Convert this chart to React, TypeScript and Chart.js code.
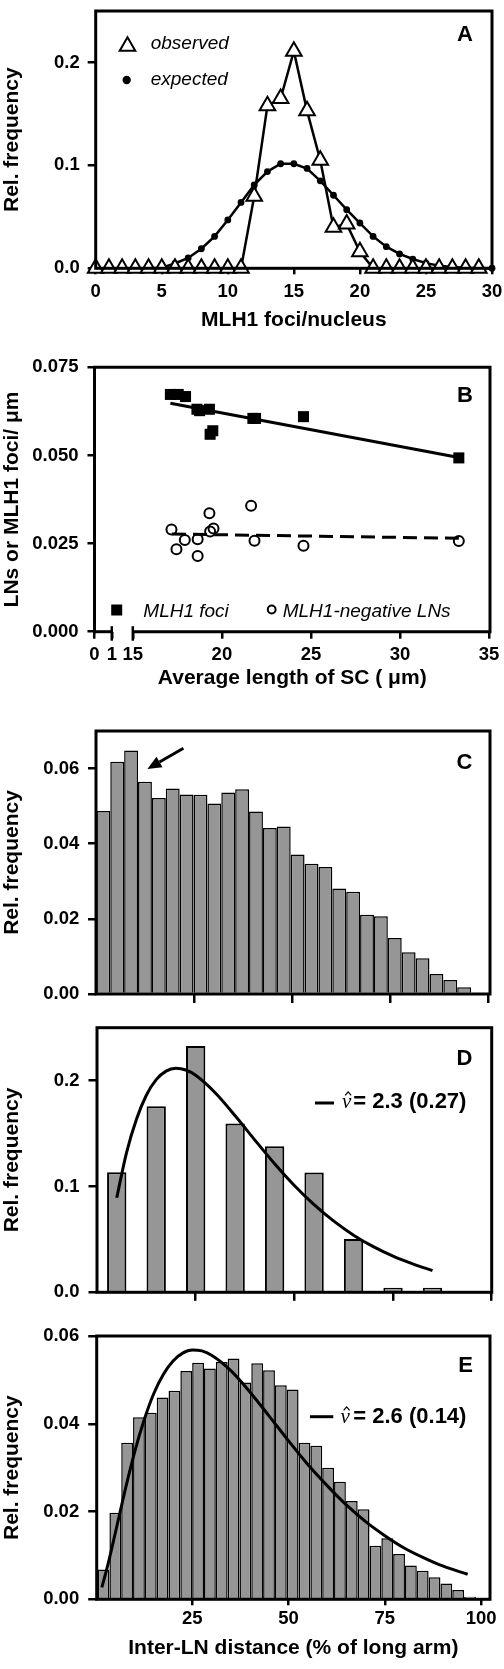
import React, { useEffect, useRef } from 'react';
import { Chart, registerables } from 'chart.js';

Chart.register(...registerables);

const SANS = "'Liberation Sans', Arial, Helvetica, sans-serif";
const SERIF = "'Liberation Serif', 'DejaVu Serif', serif";
Chart.defaults.font.family = SANS;
Chart.defaults.color = '#000';

const BAR_GREY = '#969696';

// ---------------- Panel A: MLH1 foci per nucleus ----------------
const fociCounts = [0, 1, 2, 3, 4, 5, 6, 7, 8, 9, 10, 11, 12, 13, 14, 15, 16, 17, 18, 19, 20, 21, 22, 23, 24, 25, 26, 27, 28, 29, 30];
const observedFreqA = [0, 0, 0, 0, 0, 0, 0, 0, 0, 0, 0, 0, 0.070, 0.158, 0.165, 0.211, 0.153, 0.105, 0.040, 0.043, 0.016, 0, 0, 0, 0, 0, 0, 0, 0, 0];
const expectedFreqA = [0, 0, 0, 0, 0, 0.0006, 0.0047, 0.010, 0.019, 0.031, 0.047, 0.064, 0.081, 0.094, 0.1016, 0.1016, 0.097, 0.085, 0.071, 0.057, 0.044, 0.031, 0.021, 0.014, 0.009, 0.005, 0.0025, 0.0012, 0.0005, 0.0002, 0.0001];
const xTicksA = [0, 5, 10, 15, 20, 25, 30];
const yTicksA = [0, 0.1, 0.2];

// ---------------- Panel B: foci / LNs per micron vs SC length ----------------
const scLengthFoci = [17.11, 17.55, 17.96, 18.60, 18.75, 19.30, 19.34, 19.49, 21.74, 21.89, 24.58, 33.30];
const fociPerUm = [0.0673, 0.0673, 0.0667, 0.0631, 0.0627, 0.0631, 0.0560, 0.0570, 0.0605, 0.0605, 0.0610, 0.0493];
const scLengthLN = [17.17, 17.45, 17.92, 18.64, 18.64, 19.30, 19.34, 19.53, 21.64, 21.83, 24.58, 33.30];
const lnPerUm = [0.0290, 0.0234, 0.0260, 0.0262, 0.0215, 0.0336, 0.0284, 0.0293, 0.0357, 0.0258, 0.0244, 0.0257];
const fitFociX = [17.11, 33.30];
const fitFociY = [0.0648, 0.0494];
const fitLnX = [17.2, 33.3];
const fitLnY = [0.0277, 0.0265];
const xTickValuesB = [0, 1, 15, 20, 25, 30, 35];
const xTickLabelsB = ['0', '1', '15', '20', '25', '30', '35'];
const yTicksB = [0, 0.025, 0.05, 0.075];
// broken axis: values below 15 are drawn on a compressed stub
const breakOriginB = 12.85;
const breakUnitB = 0.97;
const axisValueB = (v: number) => (v < 15 ? breakOriginB + v * breakUnitB : v);

// ---------------- Panel C: inter-LN distance histogram ----------------
const freqC = [0.0487, 0.0618, 0.0648, 0.0565, 0.0522, 0.0547, 0.0531, 0.0530, 0.0507, 0.0536, 0.0545, 0.0486, 0.0442, 0.0446, 0.0371, 0.0347, 0.0338, 0.0281, 0.0272, 0.0211, 0.0207, 0.0149, 0.0111, 0.0095, 0.0053, 0.0037, 0.0018];
const binStartC = 0;
const binWidthC = 3.54;
const arrowC = { fromX: 22.2, fromY: 0.0654, toX: 13.0, toY: 0.0599 };

// ---------------- Panel D ----------------
const binCentersD = [5, 15, 25, 35, 45, 55, 65, 75, 85];
const freqD = [0.1135, 0.1758, 0.2327, 0.1594, 0.1380, 0.1132, 0.0503, 0.0044, 0.0044];
const fitXD = [5, 7.5, 10, 12.5, 15, 17.5, 20, 22.5, 25, 30, 35, 40, 45, 50, 55, 60, 65, 70, 75, 80, 85];
const fitYD = [0.0893, 0.1323, 0.1636, 0.1862, 0.2009, 0.2090, 0.2116, 0.2100, 0.2050, 0.1883, 0.1668, 0.1438, 0.1214, 0.1009, 0.0828, 0.0672, 0.0540, 0.0431, 0.0342, 0.0269, 0.0205];
const nuLabelD = '= 2.3 (0.27)';

// ---------------- Panel E ----------------
const freqE = [0.0068, 0.0197, 0.0357, 0.0415, 0.0425, 0.0460, 0.0475, 0.0520, 0.0539, 0.0526, 0.0541, 0.0549, 0.0494, 0.0538, 0.0522, 0.0488, 0.0478, 0.0357, 0.0350, 0.0300, 0.0268, 0.0224, 0.0205, 0.0122, 0.0139, 0.0103, 0.0077, 0.0065, 0.0050, 0.0036, 0.0021, 0.0006];
const binStartE = 0.4;
const binWidthE = 3.07;
const fitXE = [1.5, 3, 5, 7.5, 10, 12.5, 15, 17.5, 20, 22.5, 25, 27.5, 30, 35, 40, 45, 50, 55, 60, 65, 70, 75, 80, 85, 90, 96.5];
const fitYE = [0.0027, 0.0076, 0.0151, 0.0247, 0.0335, 0.0409, 0.0469, 0.0513, 0.0543, 0.0561, 0.0568, 0.0566, 0.0556, 0.0521, 0.0472, 0.0417, 0.0361, 0.0307, 0.0259, 0.0215, 0.0177, 0.0145, 0.0117, 0.0095, 0.0076, 0.0057];
const nuLabelE = '= 2.6 (0.14)';

const xTicksPct = [25, 50, 75, 100];
const yTicksCE = [0, 0.02, 0.04, 0.06];
const yTicksD = [0, 0.1, 0.2];

// ---------------- layout helpers ----------------
interface Geo { top: number; height: number; left: number; right: number; plotTop: number; plotBottom: number; }
const GEO_A: Geo = { top: 0, height: 335, left: 95.7, right: 492, plotTop: 4, plotBottom: 268.3 };
const GEO_B: Geo = { top: 335, height: 365, left: 94.5, right: 490, plotTop: 367.3, plotBottom: 631.7 };
const GEO_C: Geo = { top: 700, height: 305, left: 96, right: 490, plotTop: 731, plotBottom: 994 };
const GEO_D: Geo = { top: 1005, height: 300, left: 97, right: 491.7, plotTop: 1027.7, plotBottom: 1292.3 };
const GEO_E: Geo = { top: 1305, height: 364, left: 96.7, right: 490, plotTop: 1336, plotBottom: 1599.3 };

const TICK_FONT = { size: 18.5, weight: 'bold' as const };
const TITLE_FONT = { size: 21, weight: 'bold' as const };

function yAxis(g: Geo, o: { max: number; ticks: number[]; decimals: number; title: string; tickLen: number; pad: number }) {
  return {
    type: 'linear', min: 0, max: o.max, bounds: 'data',
    afterBuildTicks: (s: any) => { s.ticks = o.ticks.map((v) => ({ value: v })); },
    afterFit: (s: any) => { s.width = g.left; s.paddingTop = 0; s.paddingBottom = 0; },
    grid: { display: true, drawOnChartArea: false, drawTicks: true, tickLength: o.tickLen, color: '#000', lineWidth: 2.5 },
    border: { display: false },
    ticks: { padding: o.pad, autoSkip: false, font: TICK_FONT, color: '#000', callback: (v: any) => Number(v).toFixed(o.decimals) },
    title: { display: true, text: o.title, color: '#000', font: TITLE_FONT, padding: { top: 0, bottom: 0 } },
  };
}

function xAxis(g: Geo, o: { min: number; max: number; ticks: number[]; labels?: (v: any, i: number) => string; tickLen: number; pad?: number; title?: string; titlePad?: number }) {
  const ticks: any = { display: !!o.labels, autoSkip: false, maxRotation: 0, minRotation: 0, padding: o.pad || 0, font: TICK_FONT, color: '#000' };
  if (o.labels) ticks.callback = o.labels;
  return {
    type: 'linear', min: o.min, max: o.max, bounds: 'data', offset: false,
    afterBuildTicks: (s: any) => { s.ticks = o.ticks.map((v) => ({ value: v })); },
    afterFit: (s: any) => { s.height = g.top + g.height - g.plotBottom; s.paddingLeft = 0; s.paddingRight = 0; },
    grid: { display: true, offset: false, drawOnChartArea: false, drawTicks: true, tickLength: o.tickLen, color: '#000', lineWidth: 2.5 },
    border: { display: false },
    ticks,
    title: o.title
      ? { display: true, text: o.title, color: '#000', font: TITLE_FONT, padding: { top: 0, bottom: o.titlePad || 0 } }
      : { display: false },
  };
}

function baseOptions(g: Geo, x: any, y: any) {
  return {
    responsive: false, maintainAspectRatio: false, animation: false, events: [],
    layout: { padding: { left: 0, right: 504 - g.right, top: g.plotTop - g.top, bottom: 0 } },
    plugins: { legend: { display: false }, tooltip: { enabled: false }, title: { display: false } },
    scales: { x, y },
  };
}

function decor(g: Geo, draw: (ctx: CanvasRenderingContext2D, chart: any, py: (y: number) => number) => void) {
  return {
    id: 'decor',
    afterDatasetsDraw(chart: any) {
      const ctx: CanvasRenderingContext2D = chart.ctx;
      ctx.save();
      draw(ctx, chart, (y: number) => y - g.top);
      ctx.restore();
    },
  };
}

function drawFrame(ctx: CanvasRenderingContext2D, a: any) {
  ctx.strokeStyle = '#000';
  ctx.lineWidth = 3;
  ctx.lineJoin = 'miter';
  ctx.strokeRect(a.left, a.top, a.right - a.left, a.bottom - a.top);
}

function drawLetter(ctx: CanvasRenderingContext2D, letter: string, x: number, baseline: number) {
  ctx.fillStyle = '#000';
  ctx.font = `bold 22px ${SANS}`;
  ctx.textAlign = 'center';
  ctx.textBaseline = 'alphabetic';
  ctx.fillText(letter, x, baseline);
}

function drawNuLegend(ctx: CanvasRenderingContext2D, x0: number, x1: number, y: number, text: string, nuX: number, textX: number, baseline: number) {
  ctx.strokeStyle = '#000';
  ctx.lineWidth = 3;
  ctx.beginPath();
  ctx.moveTo(x0, y);
  ctx.lineTo(x1, y);
  ctx.stroke();
  ctx.fillStyle = '#000';
  ctx.textAlign = 'left';
  ctx.textBaseline = 'alphabetic';
  ctx.font = `italic 21px ${SERIF}`;
  ctx.fillText('\u03BD', nuX, baseline);
  const w = ctx.measureText('\u03BD').width;
  // circumflex accent over the nu
  const cx = nuX + w / 2 + 1.5;
  ctx.lineWidth = 1.2;
  ctx.lineJoin = 'miter';
  ctx.beginPath();
  ctx.moveTo(cx - 3, baseline - 13);
  ctx.lineTo(cx, baseline - 16.5);
  ctx.lineTo(cx + 3, baseline - 13);
  ctx.stroke();
  ctx.font = `bold 22px ${SANS}`;
  ctx.fillText(text, textX, baseline);
}

function triPath(ctx: CanvasRenderingContext2D, x: number, y: number, r: number) {
  ctx.beginPath();
  for (let k = 0; k < 3; k++) {
    const ang = -Math.PI / 2 + (k * 2 * Math.PI) / 3;
    const px = x + r * Math.cos(ang);
    const pyy = y + r * Math.sin(ang);
    if (k === 0) ctx.moveTo(px, pyy); else ctx.lineTo(px, pyy);
  }
  ctx.closePath();
}

// ---------------- chart configs ----------------
function configA() {
  const g = GEO_A;
  return {
    type: 'line',
    data: {
      datasets: [
        {
          label: 'observed', order: 0,
          data: observedFreqA.map((y, i) => ({ x: fociCounts[i], y })),
          borderColor: '#000', borderWidth: 2.5, tension: 0, clip: false,
          pointStyle: 'triangle', pointRadius: 9, pointBorderWidth: 2, pointBackgroundColor: '#fff', pointBorderColor: '#000',
        },
        {
          label: 'expected', order: 1,
          data: expectedFreqA.map((y, i) => ({ x: fociCounts[i], y })),
          borderColor: '#000', borderWidth: 2.5, tension: 0, clip: false,
          pointStyle: 'circle', pointRadius: 3.4, pointBorderWidth: 0, pointBackgroundColor: '#000', pointBorderColor: '#000',
        },
      ],
    },
    options: baseOptions(
      g,
      xAxis(g, { min: 0, max: 30, ticks: xTicksA, labels: (v: any) => String(v), tickLen: 6, pad: 6.3, title: 'MLH1 foci/nucleus', titlePad: 2.4 }),
      yAxis(g, { max: 0.25, ticks: yTicksA, decimals: 1, title: 'Rel. frequency', tickLen: 8, pad: 8 }),
    ),
    plugins: [
      decor(g, (ctx, chart, py) => {
        drawFrame(ctx, chart.chartArea);
        // legend
        ctx.strokeStyle = '#000';
        ctx.lineWidth = 2;
        ctx.fillStyle = '#fff';
        triPath(ctx, 127.5, py(46.3), 9);
        ctx.fill();
        ctx.stroke();
        ctx.fillStyle = '#000';
        ctx.beginPath();
        ctx.arc(126.7, py(80), 4.2, 0, Math.PI * 2);
        ctx.fill();
        ctx.font = `italic 19px ${SANS}`;
        ctx.textAlign = 'left';
        ctx.textBaseline = 'alphabetic';
        ctx.fillText('observed', 150.7, py(49.3));
        ctx.fillText('expected', 150.7, py(85));
        drawLetter(ctx, 'A', 465, py(40.7));
      }),
    ],
  };
}

function configB() {
  const g = GEO_B;
  return {
    type: 'scatter',
    data: {
      datasets: [
        {
          label: 'MLH1 foci', order: 0,
          data: fociPerUm.map((y, i) => ({ x: scLengthFoci[i], y })),
          pointStyle: 'rect', pointRadius: 7.8, pointBorderWidth: 0, pointBackgroundColor: '#000', pointBorderColor: '#000', clip: false,
        },
        {
          label: 'MLH1-negative LNs', order: 1,
          data: lnPerUm.map((y, i) => ({ x: scLengthLN[i], y })),
          pointStyle: 'circle', pointRadius: 5, pointBorderWidth: 2, pointBackgroundColor: 'rgba(0,0,0,0)', pointBorderColor: '#000', clip: false,
        },
        {
          label: 'fit foci', order: 2, showLine: true,
          data: fitFociY.map((y, i) => ({ x: fitFociX[i], y })),
          borderColor: '#000', borderWidth: 3, pointRadius: 0,
        },
        {
          label: 'fit LNs', order: 3, showLine: true,
          data: fitLnY.map((y, i) => ({ x: fitLnX[i], y })),
          borderColor: '#000', borderWidth: 3, borderDash: [14, 7], pointRadius: 0,
        },
      ],
    },
    options: baseOptions(
      g,
      xAxis(g, {
        min: breakOriginB, max: 35.05, ticks: xTickValuesB.map(axisValueB),
        labels: (_v: any, i: number) => xTickLabelsB[i], tickLen: 7, pad: 5.2,
        title: 'Average length of SC ( \u03BCm)', titlePad: 8.9,
      }),
      yAxis(g, { max: 0.075, ticks: yTicksB, decimals: 3, title: 'LNs or MLH1 foci/ \u03BCm', tickLen: 7, pad: 9 }),
    ),
    plugins: [
      decor(g, (ctx, chart, py) => {
        const a = chart.chartArea;
        const xs = chart.scales.x;
        const b1 = xs.getPixelForValue(axisValueB(1));
        const b15 = xs.getPixelForValue(15);
        ctx.strokeStyle = '#000';
        ctx.lineWidth = 3;
        ctx.lineCap = 'butt';
        ctx.beginPath();
        ctx.moveTo(a.left, a.bottom + 1.5);
        ctx.lineTo(a.left, a.top);
        ctx.lineTo(a.right, a.top);
        ctx.lineTo(a.right, a.bottom);
        ctx.lineTo(b15, a.bottom);
        ctx.stroke();
        ctx.beginPath();
        ctx.moveTo(a.left - 1.5, a.bottom);
        ctx.lineTo(b1, a.bottom);
        ctx.stroke();
        ctx.lineWidth = 2.5;
        [b1, b15].forEach((bx) => {
          ctx.beginPath();
          ctx.moveTo(bx, a.bottom - 5.5);
          ctx.lineTo(bx, a.bottom + 9);
          ctx.stroke();
        });
        // legend
        ctx.fillStyle = '#000';
        ctx.fillRect(111.2, py(604.5), 11, 11);
        ctx.lineWidth = 2;
        ctx.beginPath();
        ctx.arc(271.7, py(609.5), 3.9, 0, Math.PI * 2);
        ctx.stroke();
        ctx.font = `italic 19px ${SANS}`;
        ctx.textAlign = 'left';
        ctx.textBaseline = 'alphabetic';
        ctx.fillText('MLH1 foci', 143.3, py(617));
        ctx.fillText('MLH1-negative LNs', 282.7, py(617));
        drawLetter(ctx, 'B', 465, py(401.7));
      }),
    ],
  };
}

function histConfig(g: Geo, centers: number[], freq: number[], barBorder: number, barPct: number, x: any, y: any, fit: { xs: number[]; ys: number[] } | null, extra: (ctx: CanvasRenderingContext2D, chart: any, py: (y: number) => number) => void) {
  const datasets: any[] = [];
  if (fit) {
    datasets.push({
      type: 'line', label: 'fit', order: 0,
      data: fit.ys.map((v, i) => ({ x: fit.xs[i], y: v })),
      borderColor: '#000', borderWidth: 3, pointRadius: 0, cubicInterpolationMode: 'monotone', fill: false,
    });
  }
  datasets.push({
    type: 'bar', label: 'freq', order: 1,
    data: freq.map((v, i) => ({ x: centers[i], y: v })),
    backgroundColor: BAR_GREY, borderColor: '#000', borderWidth: barBorder, borderSkipped: 'bottom',
    barPercentage: barPct, categoryPercentage: 1, inflateAmount: 0,
  });
  return {
    type: 'bar',
    data: { datasets },
    options: baseOptions(g, x, y),
    plugins: [
      decor(g, (ctx, chart, py) => {
        drawFrame(ctx, chart.chartArea);
        extra(ctx, chart, py);
      }),
    ],
  };
}

function configC() {
  const g = GEO_C;
  const centers = freqC.map((_, i) => binStartC + binWidthC * (i + 0.5));
  return histConfig(
    g, centers, freqC, 1.5, 1,
    xAxis(g, { min: -0.1, max: 100.4, ticks: xTicksPct, tickLen: 9 }),
    yAxis(g, { max: 0.07, ticks: yTicksCE, decimals: 2, title: 'Rel. frequency', tickLen: 8, pad: 8.7 }),
    null,
    (ctx, chart, py) => {
      const xs = chart.scales.x;
      const ys = chart.scales.y;
      const x0 = xs.getPixelForValue(arrowC.fromX);
      const y0 = ys.getPixelForValue(arrowC.fromY);
      const x1 = xs.getPixelForValue(arrowC.toX);
      const y1 = ys.getPixelForValue(arrowC.toY);
      const ang = Math.atan2(y1 - y0, x1 - x0);
      const headLen = 14;
      const headHalf = 6;
      const bx = x1 - headLen * Math.cos(ang);
      const by = y1 - headLen * Math.sin(ang);
      ctx.strokeStyle = '#000';
      ctx.fillStyle = '#000';
      ctx.lineWidth = 3;
      ctx.beginPath();
      ctx.moveTo(x0, y0);
      ctx.lineTo(bx, by);
      ctx.stroke();
      ctx.beginPath();
      ctx.moveTo(x1, y1);
      ctx.lineTo(bx + headHalf * Math.sin(ang), by - headHalf * Math.cos(ang));
      ctx.lineTo(bx - headHalf * Math.sin(ang), by + headHalf * Math.cos(ang));
      ctx.closePath();
      ctx.fill();
      drawLetter(ctx, 'C', 464.5, py(769));
    },
  );
}

function configD() {
  const g = GEO_D;
  return histConfig(
    g, binCentersD, freqD, 2, 0.49,
    xAxis(g, { min: 0, max: 100, ticks: xTicksPct, tickLen: 8.5 }),
    yAxis(g, { max: 0.25, ticks: yTicksD, decimals: 1, title: 'Rel. frequency', tickLen: 8.5, pad: 9 }),
    { xs: fitXD, ys: fitYD },
    (ctx, _chart, py) => {
      drawNuLegend(ctx, 315, 334, py(1103), nuLabelD, 342, 353.3, py(1108.3));
      drawLetter(ctx, 'D', 464.5, py(1065));
    },
  );
}

function configE() {
  const g = GEO_E;
  const centers = freqE.map((_, i) => binStartE + binWidthE * (i + 0.5));
  return histConfig(
    g, centers, freqE, 1.5, 1,
    xAxis(g, { min: 0.17, max: 102.3, ticks: xTicksPct, labels: (v: any) => String(v), tickLen: 6, pad: 2.6, title: 'Inter-LN distance (% of long arm)', titlePad: 8.1 }),
    yAxis(g, { max: 0.06, ticks: yTicksCE, decimals: 2, title: 'Rel. frequency', tickLen: 8.5, pad: 9 }),
    { xs: fitXE, ys: fitYE },
    (ctx, _chart, py) => {
      drawNuLegend(ctx, 310, 333.3, py(1416.7), nuLabelE, 340.5, 353.3, py(1423.3));
      drawLetter(ctx, 'E', 465.5, py(1371.7));
    },
  );
}

function ChartPanel({ geo, make }: { geo: Geo; make: () => any }) {
  const ref = useRef<HTMLCanvasElement>(null);
  useEffect(() => {
    if (!ref.current) return;
    const chart = new Chart(ref.current, make() as any);
    return () => chart.destroy();
  }, []);
  return (
    <canvas
      ref={ref}
      width={504}
      height={geo.height}
      style={{ position: 'absolute', left: 0, top: geo.top, width: 504, height: geo.height, display: 'block' }}
    />
  );
}

export default function App() {
  return (
    <div style={{ position: 'absolute', left: 0, top: 0, width: 504, height: 1669, background: '#fff', overflow: 'hidden' }}>
      <ChartPanel geo={GEO_A} make={configA} />
      <ChartPanel geo={GEO_B} make={configB} />
      <ChartPanel geo={GEO_C} make={configC} />
      <ChartPanel geo={GEO_D} make={configD} />
      <ChartPanel geo={GEO_E} make={configE} />
    </div>
  );
}
